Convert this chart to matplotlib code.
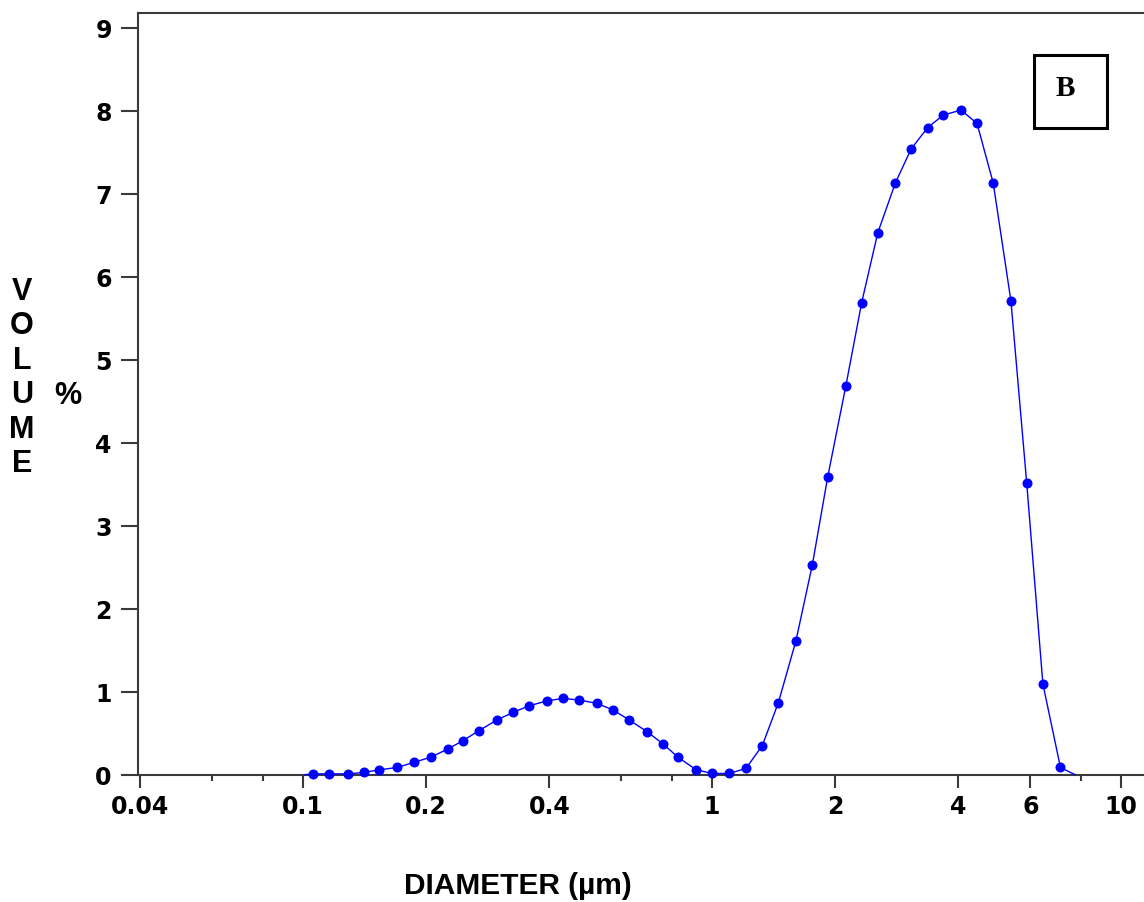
import matplotlib.pyplot as plt
from matplotlib.patches import Rectangle

# diameter (µm) and volume (%)
diameter = [0.101, 0.106, 0.116, 0.129, 0.141, 0.153, 0.170, 0.187, 0.205, 0.226,
            0.246, 0.269, 0.298, 0.326, 0.357, 0.395, 0.432, 0.473, 0.523, 0.573,
            0.627, 0.693, 0.759, 0.826, 0.914, 1.0, 1.10, 1.21, 1.327, 1.453,
            1.604, 1.759, 1.918, 2.123, 2.322, 2.542, 2.806, 3.066, 3.368, 3.678,
            4.06, 4.445, 4.87, 5.38, 5.88, 6.44, 7.11, 7.72]
volume = [0.0, 0.01, 0.01, 0.01, 0.027, 0.058, 0.087, 0.15, 0.21, 0.31,
          0.41, 0.53, 0.66, 0.75, 0.83, 0.89, 0.92, 0.90, 0.86, 0.78,
          0.66, 0.52, 0.37, 0.21, 0.06, 0.015, 0.015, 0.075, 0.35, 0.87,
          1.615, 2.53, 3.59, 4.68, 5.69, 6.53, 7.13, 7.54, 7.80, 7.95,
          8.01, 7.85, 7.13, 5.71, 3.515, 1.095, 0.087, 0.0]

x_major = [0.04, 0.1, 0.2, 0.4, 1, 2, 4, 6, 10]
x_major_labels = ['0.04', '0.1', '0.2', '0.4', '1', '2', '4', '6', '10']
x_minor = [0.06, 0.08, 0.6, 0.8, 8]
y_ticks = list(range(10))

W, H = 1144, 903
fig = plt.figure(figsize=(W / 100, H / 100), dpi=100)
left, bottom, top = 137.5 / W, 1 - 775.7 / H, 1 - 14 / H
ax = fig.add_axes([left, bottom, 1.0 - left, top - bottom])

# dots everywhere except the two end points that sit on the axis
ax.plot(diameter, volume, color='#0000ff', lw=1.0, marker='o', ms=6.2,
        markevery=slice(1, len(diameter) - 1), clip_on=False, zorder=3)

ax.set_xscale('log')
ax.set_xlim(0.03938, 11.38)
ax.set_ylim(0, 9.18)

ax.set_xticks(x_major)
ax.set_xticklabels(x_major_labels)
ax.set_xticks(x_minor, minor=True)
ax.xaxis.set_minor_formatter(plt.NullFormatter())
ax.set_yticks(y_ticks)

spine_col = '#3a3a3a'
for s in ['left', 'bottom', 'top']:
    ax.spines[s].set_color(spine_col)
    ax.spines[s].set_linewidth(1.5)
ax.spines['right'].set_visible(False)

tick_font = dict(family='DejaVu Sans', weight='bold', size=17)
ax.tick_params(axis='x', which='major', direction='out', length=9, width=1.5,
               color=spine_col, pad=5)
ax.tick_params(axis='x', which='minor', direction='out', length=4, width=1.5,
               color=spine_col)
ax.tick_params(axis='y', direction='out', length=12.5, width=1.5,
               color=spine_col, pad=6)
for lab in ax.get_xticklabels() + ax.get_yticklabels():
    lab.set_fontproperties(tick_font)
    lab.set_color('black')

# axis titles
fig.text(22 / W, 1 - 378 / H, 'V\nO\nL\nU\nM\nE', ha='center', va='center',
         family='Liberation Sans', weight='bold', fontsize=22, linespacing=1.2)
fig.text(68 / W, 1 - 396 / H, '%', ha='center', va='center',
         family='Liberation Sans', weight='bold', fontsize=22)
fig.text(518 / W, 1 - 886 / H, 'DIAMETER (µm)', ha='center', va='center',
         family='Liberation Sans', weight='bold', fontsize=21.5)

# panel label box
fig.patches.append(Rectangle((1034 / W, 1 - 129 / H), 73 / W, 73 / H,
                             transform=fig.transFigure, fill=False,
                             edgecolor='black', lw=2.2))
fig.text(1065 / W, 1 - 88 / H, 'B', ha='center', va='center',
         family='Liberation Serif', weight='bold', fontsize=21)

fig.savefig('out.png', dpi=100)
